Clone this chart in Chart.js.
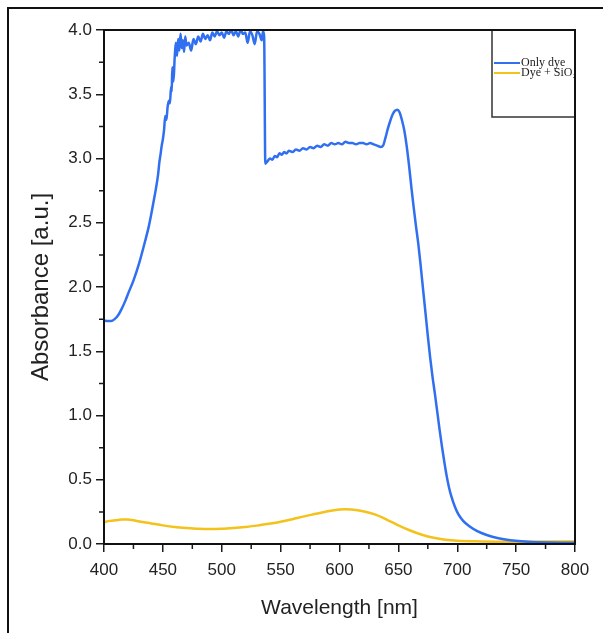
<!DOCTYPE html>
<html>
<head>
<meta charset="utf-8">
<script src="https://cdn.jsdelivr.net/npm/chart.js@4.4.1/dist/chart.umd.min.js"></script>
<style>
    html, body { margin: 0; padding: 0; background: #fff; }
    #wrap { position: relative; width: 603px; height: 633px; }
    #frame {
        position: absolute; left: 7px; top: 7px; width: 600px; height: 630px;
        border-left: 2px solid #111; border-top: 2px solid #111; pointer-events: none;
    }
</style>
</head>
<body>
<div id="wrap">
    <canvas id="chartAbs" width="603" height="633"></canvas>
    <div id="frame"></div>
</div>
<script>
// Espectro de absorção: corante puro
const dyeWavelength = [
    400, 403, 406, 409, 412, 415, 418, 421, 425, 430, 435, 438, 440, 442, 444, 446, 447, 448, 449, 450,
    451, 452, 453, 454, 455, 456, 457, 457.5, 458, 459, 460, 461, 462, 463, 464, 465, 466, 467, 468, 469,
    470, 472, 474, 476, 478, 480, 482, 484, 486, 488, 490, 492, 494, 496, 498, 500, 502, 504, 506, 508,
    510, 512, 514, 516, 518, 520, 522, 524, 526, 528, 530, 532, 534, 535, 536, 537, 539, 541, 543, 545,
    547, 549, 551, 553, 555, 557, 560, 563, 566, 569, 572, 575, 578, 581, 584, 587, 590, 593, 596, 599,
    602, 605, 608, 611, 614, 617, 620, 623, 626, 629, 632, 635, 637, 639, 641, 643, 645, 647, 649, 651,
    653, 655, 657, 659, 661, 663, 665, 667, 669, 671, 673, 675, 677, 679, 681, 683, 685, 687, 689, 691,
    693, 695, 698, 701, 705, 710, 717, 725, 735, 745, 760, 780, 800
];
const dyeAbsorbance = [
    1.74, 1.735, 1.735, 1.75, 1.78, 1.83, 1.89, 1.96, 2.05, 2.19, 2.36, 2.47, 2.56, 2.66, 2.76, 2.88, 2.97, 3.03, 3.10, 3.15,
    3.22, 3.33, 3.30, 3.40, 3.45, 3.43, 3.56, 3.52, 3.71, 3.60, 3.78, 3.90, 3.80, 3.93, 3.84, 3.97, 3.86, 3.92, 3.83, 3.95,
    3.88, 3.90, 3.84, 3.93, 3.89, 3.95, 3.91, 3.97, 3.93, 3.96, 3.92, 3.98, 3.95, 3.99, 3.96, 3.98, 3.94, 3.99, 3.97, 4.00,
    3.96, 3.99, 3.95, 4.00, 3.97, 3.98, 3.90, 3.99, 3.96, 3.89, 3.99, 3.97, 3.92, 3.99, 3.95, 2.96, 2.98, 3.00, 2.99, 3.02,
    3.01, 3.04, 3.03, 3.05, 3.04, 3.06, 3.05, 3.07, 3.06, 3.08, 3.07, 3.09, 3.08, 3.10, 3.09, 3.11, 3.10, 3.12, 3.11, 3.12,
    3.11, 3.13, 3.12, 3.12, 3.11, 3.12, 3.12, 3.11, 3.12, 3.11, 3.10, 3.09, 3.10, 3.16, 3.23, 3.29, 3.34, 3.37, 3.38, 3.36,
    3.30, 3.22, 3.10, 2.95, 2.78, 2.62, 2.47, 2.33, 2.16, 1.98, 1.80, 1.62, 1.45, 1.30, 1.17, 1.03, 0.89, 0.76, 0.64, 0.53,
    0.44, 0.37, 0.29, 0.23, 0.18, 0.14, 0.10, 0.07, 0.045, 0.03, 0.018, 0.012, 0.01
];

// Espectro de absorção: corante + SiO2
const silicaWavelength = [
    400, 405, 410, 415, 420, 425, 430, 440, 450, 460, 470, 480, 490, 500, 510, 520, 530, 540, 550, 560,
    570, 580, 590, 600, 605, 610, 620, 630, 640, 650, 660, 670, 680, 690, 700, 720, 750, 800
];
const silicaAbsorbance = [
    0.17, 0.18, 0.185, 0.19, 0.19, 0.185, 0.175, 0.16, 0.145, 0.133, 0.125, 0.119, 0.117, 0.119, 0.125, 0.133, 0.143, 0.157, 0.173, 0.193,
    0.215, 0.235, 0.255, 0.268, 0.27, 0.268, 0.255, 0.23, 0.19, 0.145, 0.105, 0.072, 0.048, 0.033, 0.025, 0.02, 0.018, 0.02
];

const seriesLabels = ['Only dye', 'Dye + SiO\u2082'];
const seriesColors = ['#2f6ff0', '#f3c21b'];

const xMinorTicks = [425, 475, 525, 575, 625, 675, 725, 775];
const yMinorTicks = [0.25, 0.75, 1.25, 1.75, 2.25, 2.75, 3.25, 3.75];

function pares(xs, ys) {
    return xs.map((x, i) => ({ x: x, y: ys[i] }));
}

// Moldura da área do gráfico, marcas secundárias e legenda em caixa
const molduraPlugin = {
    id: 'moldura',
    afterDraw(chart) {
        const ctx = chart.ctx;
        const a = chart.chartArea;
        const sx = chart.scales.x;
        const sy = chart.scales.y;
        ctx.save();

        // marcas secundárias
        ctx.strokeStyle = '#1a1a1a';
        ctx.lineWidth = 1.5;
        ctx.beginPath();
        xMinorTicks.forEach(v => {
            const px = sx.getPixelForValue(v);
            ctx.moveTo(px, a.bottom);
            ctx.lineTo(px, a.bottom + 5);
        });
        yMinorTicks.forEach(v => {
            const py = sy.getPixelForValue(v);
            ctx.moveTo(a.left, py);
            ctx.lineTo(a.left - 5, py);
        });
        ctx.stroke();

        // caixa da legenda
        const lx = 492, ly = a.top, lw = a.right - 492, lh = 87;
        ctx.strokeStyle = '#333';
        ctx.lineWidth = 1.5;
        ctx.strokeRect(lx, ly, lw, lh);

        ctx.font = '12px "Liberation Serif", serif';
        ctx.textBaseline = 'middle';
        ctx.fillStyle = '#222';
        chart.data.datasets.forEach((ds, i) => {
            const yy = ly + 33 + i * 10;
            ctx.strokeStyle = ds.borderColor;
            ctx.lineWidth = 2;
            ctx.beginPath();
            ctx.moveTo(lx + 2, yy);
            ctx.lineTo(lx + 28, yy);
            ctx.stroke();
            ctx.fillText(ds.label, lx + 29, yy);
        });

        // borda completa da área do gráfico
        ctx.strokeStyle = '#111';
        ctx.lineWidth = 2;
        ctx.strokeRect(a.left, a.top, a.right - a.left, a.bottom - a.top);
        ctx.restore();
    }
};

const ctx = document.getElementById('chartAbs');

new Chart(ctx, {
    type: 'line',
    data: {
        datasets: [
            {
                label: seriesLabels[0],
                data: pares(dyeWavelength, dyeAbsorbance),
                borderColor: seriesColors[0],
                borderWidth: 2.5,
                pointRadius: 0,
                cubicInterpolationMode: 'monotone'
            },
            {
                label: seriesLabels[1],
                data: pares(silicaWavelength, silicaAbsorbance),
                borderColor: seriesColors[1],
                borderWidth: 2.5,
                pointRadius: 0,
                cubicInterpolationMode: 'monotone'
            }
        ]
    },
    options: {
        responsive: false,
        animation: false,
        layout: {
            padding: { left: 23, top: 30, right: 28, bottom: 8 }
        },
        plugins: {
            legend: { display: false },
            tooltip: { enabled: false }
        },
        scales: {
            x: {
                type: 'linear',
                min: 400,
                max: 800,
                afterFit: function(scale) { scale.height = 81; },
                ticks: {
                    stepSize: 50,
                    padding: 8,
                    color: '#222',
                    font: { family: 'Arial, "Liberation Sans", sans-serif', size: 17 }
                },
                grid: {
                    drawOnChartArea: false,
                    tickLength: 8,
                    tickColor: '#1a1a1a',
                    lineWidth: 1.5
                },
                border: { display: true, color: '#111', width: 2 },
                title: {
                    display: true,
                    text: 'Wavelength [nm]',
                    color: '#222',
                    font: { family: 'Arial, "Liberation Sans", sans-serif', size: 21 }
                }
            },
            y: {
                type: 'linear',
                min: 0,
                max: 4,
                afterFit: function(scale) { scale.width = 81; },
                ticks: {
                    stepSize: 0.5,
                    padding: 4,
                    color: '#222',
                    font: { family: 'Arial, "Liberation Sans", sans-serif', size: 17 },
                    callback: function(value) {
                        return value.toFixed(1);
                    }
                },
                grid: {
                    drawOnChartArea: false,
                    tickLength: 8,
                    tickColor: '#1a1a1a',
                    lineWidth: 1.5
                },
                border: { display: true, color: '#111', width: 2 },
                title: {
                    display: true,
                    text: 'Absorbance [a.u.]',
                    color: '#222',
                    font: { family: 'Arial, "Liberation Sans", sans-serif', size: 24 }
                }
            }
        }
    },
    plugins: [molduraPlugin]
});
</script>
</body>
</html>
